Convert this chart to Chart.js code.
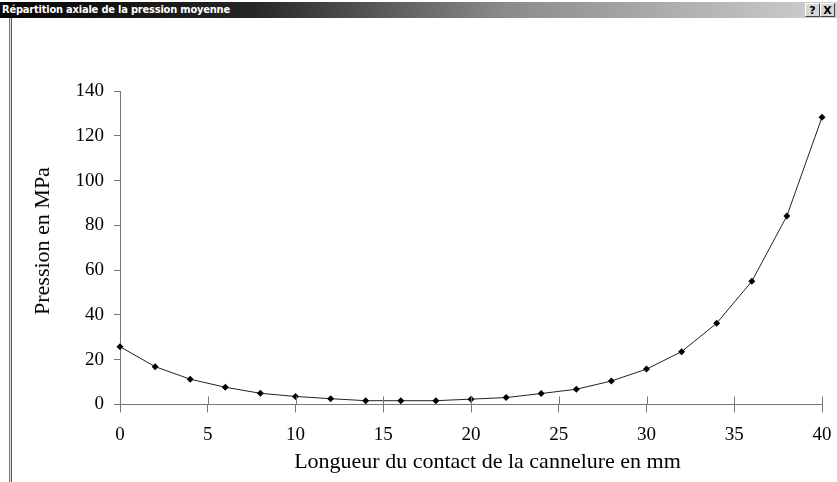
<!DOCTYPE html>
<html>
<head>
<meta charset="utf-8">
<script src="https://cdn.jsdelivr.net/npm/chart.js@4.4.0/dist/chart.umd.min.js"></script>
<style>
  html, body { margin: 0; padding: 0; background: #fff; }
  #frame { position: relative; width: 837px; height: 482px; overflow: hidden; }
  #titlebar {
    position: absolute; left: 0; top: 2px; width: 837px; height: 16px;
    background: linear-gradient(to right, #050505 0%, #262626 30%, #8a8a8a 60%, #d0d0d0 100%);
    color: #fff; font: bold 11px "DejaVu Sans Condensed", sans-serif; letter-spacing: -0.2px;
    line-height: 16px; padding-left: 2px; box-sizing: border-box; white-space: nowrap;
  }
  .btn {
    position: absolute; top: 3px; width: 15px; height: 14px;
    background: #d6d6d6; color: #000; text-align: center;
    font: bold 11px "DejaVu Sans", sans-serif; line-height: 13px;
    border-top: 1px solid #fff; border-left: 1px solid #fff;
    border-right: 1px solid #444; border-bottom: 1px solid #444; box-sizing: border-box;
  }
  #leftline {
    position: absolute; left: 9px; top: 18px; width: 3px; height: 464px;
    background: linear-gradient(to right, #7a7a7a 0, #7a7a7a 1px, #e0e0e0 1px, #e0e0e0 2px, #555 2px);
  }
  canvas { position: absolute; left: 0; top: 0; }
  .axtitle {
    position: absolute; font-family: "Liberation Serif", "Times New Roman", serif;
    font-size: 22px; line-height: 22px; color: #000; white-space: nowrap;
  }
  #xtitle { left: 487.5px; top: 450px; transform: translateX(-50%); }
  #ytitle { left: 41.9px; top: 241px; transform: translate(-50%, -50%) rotate(-90deg); }
</style>
</head>
<body>
<div id="frame">
  <canvas id="chart" width="837" height="482"></canvas>
  <div id="titlebar">Répartition axiale de la pression moyenne</div>
  <div class="btn" style="left:805px">?</div>
  <div class="btn" style="left:820px">X</div>
  <div id="leftline"></div>
  <div class="axtitle" id="xtitle">Longueur du contact de la cannelure en mm</div>
  <div class="axtitle" id="ytitle">Pression en MPa</div>
</div>
<script>
// longueur de contact (mm) et pression moyenne (MPa)
const positions = [0, 2, 4, 6, 8, 10, 12, 14, 16, 18, 20, 22, 24, 26, 28, 30, 32, 34, 36, 38, 40];
const pressures = [25.8, 16.9, 11.3, 7.7, 5.0, 3.6, 2.6, 1.7, 1.7, 1.7, 2.4, 3.1, 4.9, 6.8, 10.5, 15.8, 23.6, 36.3, 55.0, 84.2, 128.3];

const axisColor = '#777';
const tickFont = { family: 'Liberation Serif', size: 19 };

// les graduations de l'axe x traversent l'axe (partie au-dessus)
const tickUp = {
  id: 'tickUp',
  afterDraw(chart) {
    const sx = chart.scales.x;
    const ctx = chart.ctx;
    ctx.save();
    ctx.strokeStyle = axisColor;
    ctx.lineWidth = 1;
    sx.ticks.forEach(t => {
      const px = Math.round(sx.getPixelForValue(t.value)) + 0.5;
      ctx.beginPath();
      ctx.moveTo(px, sx.top - 8);
      ctx.lineTo(px, sx.top);
      ctx.stroke();
    });
    ctx.restore();
  }
};

new Chart(document.getElementById('chart'), {
  type: 'line',
  data: {
    datasets: [{
      data: positions.map((x, i) => ({ x: x, y: pressures[i] })),
      borderColor: '#222',
      borderWidth: 1,
      pointStyle: 'rectRot',
      pointRadius: 3.5,
      pointBackgroundColor: '#000',
      pointBorderWidth: 0,
      tension: 0,
      clip: false
    }]
  },
  options: {
    responsive: false,
    animation: false,
    layout: { padding: { top: 91, right: 15, left: 0, bottom: 0 } },
    plugins: { legend: { display: false }, tooltip: { enabled: false } },
    scales: {
      x: {
        type: 'linear', min: 0, max: 40,
        ticks: { stepSize: 5, color: '#000', font: tickFont, padding: 11, maxRotation: 0 },
        grid: { drawOnChartArea: false, tickLength: 8, color: axisColor },
        border: { color: axisColor, width: 1 },
        afterFit(scale) {
          scale.height = 77.5;
          scale.paddingLeft = 0;
          scale.paddingRight = 0;
        }
      },
      y: {
        min: 0, max: 140,
        ticks: { stepSize: 20, color: '#000', font: tickFont, padding: 10 },
        grid: { drawOnChartArea: false, tickLength: 6, color: axisColor },
        border: { color: axisColor, width: 1 },
        afterFit(scale) { scale.width = 120; }
      }
    }
  },
  plugins: [tickUp]
});
</script>
</body>
</html>
